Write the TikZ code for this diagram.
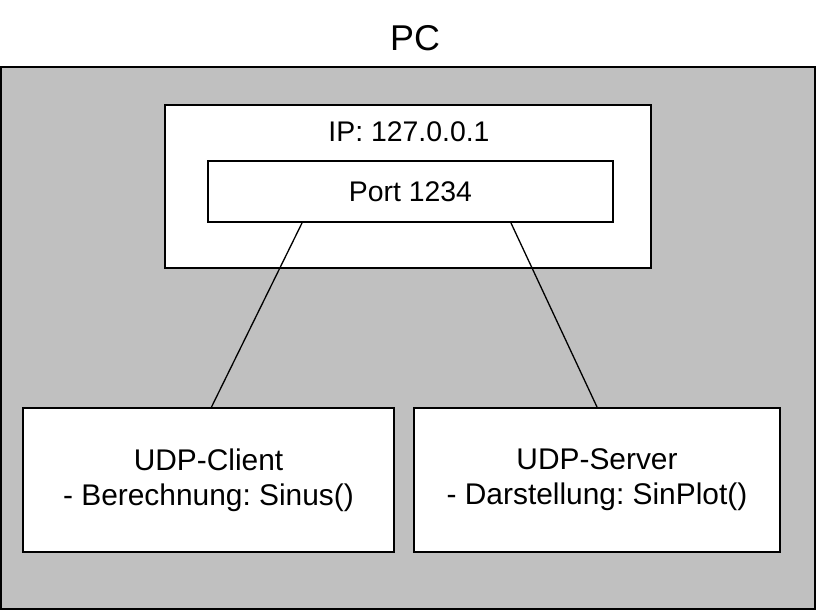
\documentclass[tikz,border=0pt]{standalone}
\usepackage{fontspec}
\setmainfont{Liberation Sans}
\usetikzlibrary{calc}
\definecolor{pcgray}{HTML}{C0C0C0}
\frenchspacing
\tikzset{
  box/.style={draw=black, line width=2bp, fill=white, inner sep=0pt},
  link/.style={draw=black, line width=1.3bp},
  txt/.style={inner sep=0pt, font=\fontsize{28.5}{34}\selectfont, align=center},
  bigtxt/.style={inner sep=0pt, font=\fontsize{30}{35}\selectfont, align=center},
}
\begin{document}
\begin{tikzpicture}[x=1bp, y=-1bp]
\useasboundingbox (0,0) rectangle (817,611);
\node[box, fill=pcgray, minimum width=814bp, minimum height=542bp] (pc) at (408,338) {};
\node[txt, font=\fontsize{36}{40}\selectfont] (pctitle) at (415,38) {PC};
\node[box, minimum width=486bp, minimum height=163bp] (ip) at (408,186.5) {};
\node[txt] (iptext) at (409,132) {IP: 127.0.0.1};
\node[box, minimum width=405bp, minimum height=61bp, txt] (port) at (410.5,191.5) {Port 1234};
\node[box, minimum width=371bp, minimum height=144bp, bigtxt] (client) at (208.5,480) {\rule{0pt}{0pt}\raisebox{0pt}{UDP-Client}\\- Berechnung: Sinus()};
\node[box, minimum width=366bp, minimum height=144bp, bigtxt] (server) at (597,480) {UDP-Server\\- Darstellung: SinPlot()};
\draw[link] ($(port.south west)+(95,0)$) -- ($(client.north west)+(189.5,0)$);
\draw[link] ($(port.south west)+(304,0)$) -- ($(server.north west)+(184,0)$);
\end{tikzpicture}
\end{document}
